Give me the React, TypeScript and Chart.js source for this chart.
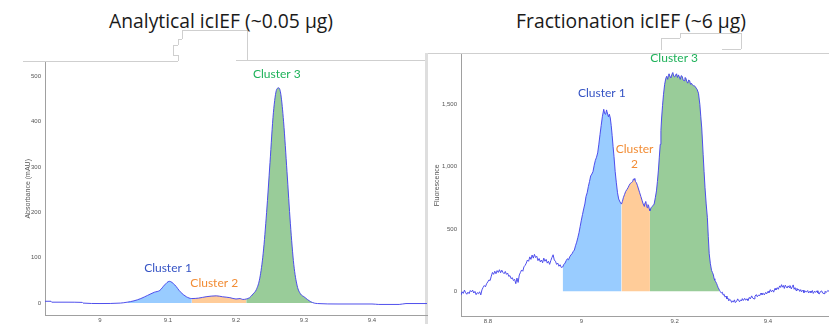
import React, { useEffect, useRef } from "react";
import { Chart, registerables } from "chart.js";

Chart.register(...registerables);

// ---------- Left: Analytical icIEF ----------
const leftX = [8.919, 8.928, 8.929, 8.95, 8.974, 8.975, 9.0, 9.03, 9.04, 9.05, 9.06, 9.07, 9.08, 9.088, 9.095, 9.102, 9.11, 9.118, 9.127, 9.135, 9.145, 9.156, 9.171, 9.18, 9.191, 9.2, 9.206, 9.21, 9.215, 9.22, 9.225, 9.23, 9.235, 9.24, 9.245, 9.25, 9.255, 9.26, 9.263, 9.266, 9.27, 9.275, 9.28, 9.285, 9.29, 9.295, 9.3, 9.305, 9.31, 9.315, 9.32, 9.35, 9.4, 9.41, 9.44, 9.45, 9.481];
const leftY = [4, 4, 2, 2, 1.5, 0, -1, 0, 2, 5, 10, 17, 24, 28, 40, 48, 40, 25, 14, 10, 11, 14, 16, 14, 12, 9, 10, 8, 9, 12, 20, 30, 55, 110, 200, 310, 420, 472, 475, 460, 400, 290, 175, 85, 38, 20, 14, 8, 3, 0, -1, -2, -2, -3, -3, -1, -1];
const leftClusterRanges = [[9.04, 9.135], [9.135, 9.215], [9.215, 9.315]];
const leftXTicks = [9, 9.1, 9.2, 9.3, 9.4];
const leftYTicks = [0, 100, 200, 300, 400, 500];
const leftLabelText = ["Cluster 1", "Cluster 2", "Cluster 3"];
const leftLabelX = [9.1, 9.168, 9.26];
const leftLabelY = [77, 44, 505];

// ---------- Right: Fractionation icIEF ----------
// baseline before the clusters
const rightX1 = [
  8.742, 8.7445, 8.747, 8.7495, 8.752, 8.7545, 8.757, 8.7595, 8.762, 8.7645,
  8.767, 8.7695, 8.772, 8.7745, 8.777, 8.7795, 8.782, 8.7845, 8.787, 8.7895,
  8.792, 8.7945, 8.797, 8.7995, 8.802, 8.8045, 8.807, 8.8095, 8.812, 8.8145,
  8.817, 8.8195, 8.822, 8.8245, 8.827, 8.8295, 8.832, 8.8345, 8.837, 8.8395,
  8.842, 8.8445, 8.847, 8.8495, 8.852, 8.8545, 8.857, 8.8595, 8.862, 8.8645,
  8.867, 8.8695, 8.872, 8.8745, 8.877, 8.8795, 8.882, 8.8845, 8.887, 8.8895,
  8.892, 8.8945, 8.897, 8.8995, 8.902, 8.9045, 8.907, 8.9095, 8.912, 8.9145,
  8.917, 8.9195, 8.922, 8.9245, 8.927, 8.9295, 8.932, 8.9345, 8.937, 8.9395,
  8.942, 8.9445, 8.947, 8.9495, 8.952, 8.9545, 8.957, 8.96,
];
const rightY1 = [
  -32, -5, -18, 8, -12, -25, -8, -20, 5, -6,
  8, -15, -2, -28, -12, -20, -5, -30, 10, 30,
  45, 35, 60, 74, 90, 85, 120, 150, 135, 160,
  140, 165, 150, 172, 148, 168, 150, 140, 158, 135,
  145, 118, 125, 100, 108, 85, 95, 60, 105, 70,
  130, 150, 170, 160, 195, 207, 225, 250, 240, 275,
  255, 290, 265, 295, 270, 280, 245, 262, 235, 250,
  228, 265, 240, 255, 225, 240, 215, 245, 270, 292,
  250, 240, 215, 225, 200, 212, 190, 194,
];
// cluster region
const rightX2 = [
  8.9625, 8.965, 8.9675, 8.97, 8.9725, 8.975, 8.9775, 8.98, 8.9825, 8.985,
  8.9875, 8.99, 8.9925, 8.995, 8.9975, 9.0, 9.0025, 9.005, 9.0075, 9.01,
  9.0125, 9.015, 9.0175, 9.02, 9.0225, 9.025, 9.0275, 9.03, 9.0325, 9.035,
  9.0375, 9.04, 9.0425, 9.045, 9.048, 9.05, 9.052, 9.054, 9.055, 9.058,
  9.06, 9.062, 9.064, 9.066, 9.068, 9.07, 9.0725, 9.075, 9.0775, 9.08,
  9.083, 9.086, 9.088, 9.09, 9.0925, 9.095, 9.0975, 9.1, 9.1025, 9.105,
  9.1075, 9.11, 9.1115, 9.113, 9.1145, 9.116, 9.118, 9.12, 9.1225, 9.125,
  9.1275, 9.13, 9.1325, 9.135, 9.1365, 9.138, 9.1395, 9.141, 9.1425, 9.144,
  9.1455, 9.147, 9.1495, 9.152, 9.154, 9.156, 9.1585, 9.161, 9.163, 9.165,
  9.167, 9.169, 9.1705, 9.172, 9.174, 9.176, 9.1785, 9.181, 9.183, 9.185,
  9.1865, 9.188, 9.19, 9.192, 9.194, 9.196, 9.198, 9.2, 9.202, 9.204,
  9.206, 9.208, 9.21, 9.212, 9.214, 9.216, 9.218, 9.22, 9.222, 9.224,
  9.226, 9.228, 9.23, 9.232, 9.234, 9.236, 9.238, 9.24, 9.242, 9.244,
  9.246, 9.248, 9.251, 9.254, 9.256, 9.258, 9.261, 9.263, 9.265, 9.2675,
  9.27, 9.272, 9.274, 9.2765, 9.279, 9.281, 9.283, 9.2845, 9.286, 9.288,
  9.29, 9.2915, 9.293,
];
const rightY2 = [
  215, 225, 245, 260, 252, 275, 290, 300, 318, 330,
  365, 393, 430, 470, 520, 570, 615, 660, 700, 760,
  790, 840, 880, 925, 940, 960, 1010, 1050, 1075, 1110,
  1180, 1257, 1330, 1400, 1460, 1425, 1420, 1455, 1440, 1400,
  1420, 1390, 1330, 1250, 1160, 1080, 960, 870, 790, 740,
  715, 699, 720, 750, 775, 800, 815, 830, 850, 865,
  872, 880, 900, 895, 905, 880, 870, 850, 820, 790,
  760, 730, 700, 680, 710, 720, 690, 670, 695, 690,
  660, 646, 670, 680, 690, 699, 750, 805, 880, 965,
  1070, 1178, 1290, 1390, 1490, 1577, 1660, 1709, 1725, 1700,
  1730, 1745, 1720, 1715, 1740, 1755, 1725, 1720, 1735, 1745,
  1715, 1736, 1720, 1700, 1730, 1725, 1695, 1690, 1715, 1710,
  1683, 1670, 1695, 1690, 1660, 1669, 1655, 1650, 1648, 1643,
  1630, 1620, 1589, 1497, 1400, 1310, 1098, 960, 832, 700,
  593, 440, 300, 220, 167, 150, 130, 100, 88, 75,
  60, 45, 30,
];
// baseline after the clusters
const rightX3 = [
  9.296, 9.298, 9.3, 9.302, 9.304, 9.306, 9.308, 9.31, 9.312, 9.314,
  9.316, 9.318, 9.32, 9.322, 9.324, 9.326, 9.328, 9.33, 9.333, 9.335,
  9.337, 9.339, 9.341, 9.343, 9.345, 9.347, 9.35, 9.352, 9.355, 9.357,
  9.36, 9.362, 9.365, 9.367, 9.37, 9.372, 9.375, 9.377, 9.38, 9.382,
  9.385, 9.387, 9.39, 9.392, 9.395, 9.397, 9.4, 9.402, 9.405, 9.407,
  9.41, 9.412, 9.415, 9.417, 9.42, 9.422, 9.425, 9.427, 9.429, 9.431,
  9.433, 9.435, 9.437, 9.439, 9.441, 9.443, 9.445, 9.447, 9.45, 9.452,
  9.454, 9.456, 9.458, 9.46, 9.462, 9.464, 9.466, 9.468, 9.47, 9.472,
  9.475, 9.477, 9.48, 9.482, 9.485, 9.487, 9.49, 9.492, 9.495, 9.497,
  9.5, 9.502, 9.505, 9.507, 9.51, 9.512, 9.515, 9.517, 9.52, 9.522,
  9.525, 9.528, 9.531,
];
const rightY3 = [
  8, -5, -15, -8, -32, -25, -48, -40, -62, -55,
  -78, -65, -72, -90, -78, -88, -70, -92, -80, -62,
  -75, -85, -70, -78, -60, -75, -58, -72, -62, -75,
  -50, -62, -38, -55, -62, -40, -28, -45, -30, -38,
  -15, -28, -18, -30, -10, -22, -2, -12, 12, -5,
  8, -8, 22, 10, 28, 15, 42, 30, 52, 32,
  45, 22, 48, 35, 25, 42, 30, 45, 18, 35,
  50, 15, 28, 5, 22, 8, 15, -2, 12, -5,
  8, -12, 2, -8, 5, -15, 0, -12, 5, -18,
  0, -10, 3, -15, -22, -5, 2, -15, -20, -2,
  -10, 5, -2,
];
const rightX = [...rightX1, ...rightX2, ...rightX3];
const rightY = [...rightY1, ...rightY2, ...rightY3];
const rightClusterRanges = [[8.96, 9.086], [9.086, 9.147], [9.147, 9.296]];
const rightXTicks = [8.8, 9, 9.2, 9.4];
const rightYTicks = [0, 500, 1000, 1500];
const rightLabelText = ["Cluster 1", "Cluster\n2", "Cluster 3"];
const rightLabelX = [9.044, 9.114, 9.199];
const rightLabelY = [1588, 1081, 1867];

const clusterFills = ["rgb(153,204,255)", "rgb(255,204,153)", "rgb(153,204,153)"];
const clusterTextColors = ["#3553c4", "#f28c34", "#1fb25a"];

// decorative frame lines (x1, y1, x2, y2) from the original composite
const decoLines = [
  [23, 61, 178, 61], [178, 55, 178, 61], [173, 55, 178, 55], [173, 45, 173, 55], [173, 45, 178, 45],
  [178, 39, 178, 45], [178, 39, 182, 39], [182, 30, 182, 39], [182, 30, 247, 30], [247, 30, 247, 60],
  [236, 60, 427, 60], [427, 53, 829, 53], [661, 38, 661, 50], [661, 38, 680, 38], [680, 33, 680, 38],
  [680, 33, 741, 33], [741, 33, 741, 49], [722, 49, 741, 49],
];

const tickFont = { size: 6, family: "'Liberation Sans', Arial, sans-serif" };
const labelPlugin = {
  id: "clusterLabels",
  afterDatasetsDraw(chart: any, _args: any, opts: any) {
    const { ctx } = chart;
    const xs = chart.scales.x;
    const ys = chart.scales.y;
    ctx.save();
    ctx.font = "12px Lato, 'Open Sans', sans-serif";
    ctx.textAlign = "center";
    ctx.textBaseline = "middle";
    (opts.items || []).forEach((it: any) => {
      const lines = String(it.text).split("\n");
      const px = xs.getPixelForValue(it.x);
      const py = ys.getPixelForValue(it.y);
      const lh = 15;
      lines.forEach((ln: string, i: number) => {
        ctx.fillStyle = it.color;
        ctx.fillText(ln, px, py + (i - (lines.length - 1) / 2) * lh);
      });
    });
    ctx.restore();
  },
};

function buildConfig(p: any) {
  const pts = p.xs.map((x: number, i: number) => ({ x, y: p.ys[i] }));
  const interp = p.smooth ? { cubicInterpolationMode: "monotone" } : { tension: 0 };
  const datasets: any[] = [
    {
      data: pts,
      borderColor: "rgba(70,70,235,0.95)",
      borderWidth: 1,
      pointRadius: 0,
      fill: false,
      order: 0,
      ...interp,
    },
    ...p.ranges.map((r: number[], k: number) => ({
      data: pts.filter((pt: any) => pt.x >= r[0] - 1e-9 && pt.x <= r[1] + 1e-9),
      backgroundColor: clusterFills[k],
      borderWidth: 0,
      borderColor: "rgba(0,0,0,0)",
      pointRadius: 0,
      fill: "origin",
      order: 1,
      ...interp,
    })),
  ];
  const items = p.labelText.map((t: string, i: number) => ({
    text: t,
    x: p.labelX[i],
    y: p.labelY[i],
    color: clusterTextColors[i],
  }));
  return {
    type: "line",
    data: { datasets },
    plugins: [labelPlugin],
    options: {
      responsive: false,
      animation: false,
      events: [],
      layout: { padding: { top: p.padTop, right: p.padRight, left: 0, bottom: 0 } },
      plugins: {
        legend: { display: false },
        tooltip: { enabled: false },
        clusterLabels: { items },
      },
      scales: {
        x: {
          type: "linear",
          min: p.xMin,
          max: p.xMax,
          grid: { display: false, drawTicks: false },
          border: { display: true, color: "#a0a0a0", width: 1 },
          ticks: {
            font: tickFont,
            color: "#555",
            padding: 2,
            maxRotation: 0,
            autoSkip: false,
            callback: (v: number) => String(v),
          },
          afterBuildTicks: (s: any) => {
            s.ticks = p.xTicks.map((v: number) => ({ value: v }));
          },
          afterFit: (s: any) => {
            s.height = p.xHeight;
          },
        },
        y: {
          type: "linear",
          min: p.yMin,
          max: p.yMax,
          grid: { display: false, drawTicks: false },
          border: { display: true, color: "#a0a0a0", width: 1 },
          title: {
            display: true,
            text: p.yTitle,
            color: "#555",
            font: { size: 7, family: "'Liberation Sans', Arial, sans-serif" },
            padding: { top: p.titlePad, bottom: 0 },
          },
          ticks: {
            font: tickFont,
            color: "#555",
            padding: 4,
            autoSkip: false,
            callback: p.yFmt,
          },
          afterBuildTicks: (s: any) => {
            s.ticks = p.yTicks.map((v: number) => ({ value: v }));
          },
          afterFit: (s: any) => {
            s.width = p.yWidth;
          },
        },
      },
    },
  };
}

function ChartCanvas(props: { left: number; top: number; width: number; height: number; config: any }) {
  const ref = useRef<HTMLCanvasElement | null>(null);
  useEffect(() => {
    if (!ref.current) return;
    const chart = new Chart(ref.current, props.config);
    return () => chart.destroy();
  }, []);
  return (
    <canvas
      ref={ref}
      width={props.width}
      height={props.height}
      style={{ position: "absolute", left: props.left, top: props.top, width: props.width, height: props.height }}
    />
  );
}

const leftConfig = buildConfig({
  xs: leftX, ys: leftY, ranges: leftClusterRanges, smooth: true,
  xMin: 8.9191, xMax: 9.4809, yMin: -26.3, yMax: 530.7,
  xTicks: leftXTicks, yTicks: leftYTicks,
  yTitle: "Absorbance (mAU)", titlePad: 24, yWidth: 45, xHeight: 9, padTop: 6, padRight: 1,
  labelText: leftLabelText, labelX: leftLabelX, labelY: leftLabelY,
  yFmt: (v: number) => String(v),
});

const rightConfig = buildConfig({
  xs: rightX, ys: rightY, ranges: rightClusterRanges, smooth: false,
  xMin: 8.7421, xMax: 9.5307, yMin: -199.5, yMax: 1899,
  xTicks: rightXTicks, yTicks: rightYTicks,
  yTitle: "Fluorescence", titlePad: 5, yWidth: 33, xHeight: 8, padTop: 6, padRight: 0,
  labelText: rightLabelText, labelX: rightLabelX, labelY: rightLabelY,
  yFmt: (v: number) => v.toLocaleString("en-US"),
});

const titleStyle = (cx: number): React.CSSProperties => ({
  position: "absolute",
  left: cx - 200,
  width: 400,
  top: 9,
  textAlign: "center",
  fontFamily: "'Open Sans', Lato, sans-serif",
  fontSize: 19.3,
  lineHeight: "24px",
  color: "#1a1a1a",
  whiteSpace: "nowrap",
});

export default function App() {
  return (
    <div style={{ position: "absolute", left: 0, top: 0, width: 829, height: 324, background: "#fff", overflow: "hidden" }}>
      {decoLines.map((l, i) => (
        <div
          key={i}
          style={{
            position: "absolute",
            left: Math.min(l[0], l[2]),
            top: Math.min(l[1], l[3]),
            width: Math.max(1, Math.abs(l[2] - l[0])),
            height: Math.max(1, Math.abs(l[3] - l[1])),
            background: "#cfcfcf",
          }}
        />
      ))}
      <div style={{ position: "absolute", left: 425, top: 53, width: 3, height: 271, background: "#dedede" }} />
      <ChartCanvas left={0} top={55} width={428} height={269} config={leftConfig} />
      <ChartCanvas left={428} top={47} width={401} height={277} config={rightConfig} />
      <div style={titleStyle(221)}>Analytical icIEF (~0.05 µg)</div>
      <div style={titleStyle(631)}>Fractionation icIEF (~6 µg)</div>
    </div>
  );
}
